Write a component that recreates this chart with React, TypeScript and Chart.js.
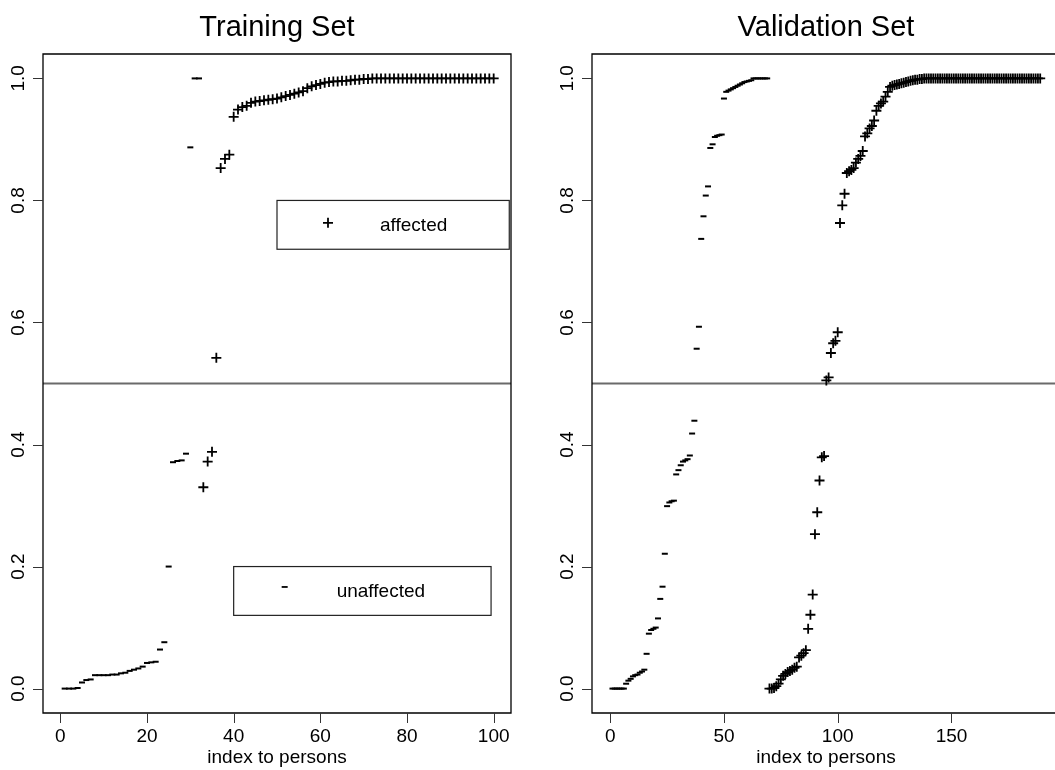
import React, { useEffect, useRef } from "react";
import { Chart, registerables } from "chart.js";

Chart.register(...registerables);

const FONT = '"Liberation Sans", Arial, Helvetica, sans-serif';

// ---------- Training set ----------
const trainUnaffectedStart = 1;
const trainUnaffected = [
  0.0, 0.0, 0.0, 0.001, 0.01, 0.014, 0.015, 0.022, 0.022, 0.022, 0.022, 0.023,
  0.023, 0.025, 0.026, 0.029, 0.031, 0.033, 0.036, 0.042, 0.043, 0.044, 0.064,
  0.076, 0.2, 0.371, 0.373, 0.374, 0.385, 0.887, 1.0, 1.0,
];
const trainAffectedStart = 33;
const trainAffected = [
  0.33, 0.372, 0.388, 0.542, 0.853, 0.868, 0.875, 0.937, 0.949, 0.953, 0.955,
  0.96, 0.962, 0.963, 0.964, 0.965, 0.966, 0.967, 0.969, 0.971, 0.973, 0.975,
  0.977, 0.979, 0.984, 0.987, 0.989, 0.991, 0.993, 0.994, 0.995, 0.995, 0.996,
  0.996, 0.997, 0.998, 0.998, 0.999, 0.999,
  1.0, 1.0, 1.0, 1.0, 1.0, 1.0, 1.0, 1.0, 1.0, 1.0, 1.0, 1.0, 1.0, 1.0, 1.0,
  1.0, 1.0, 1.0, 1.0, 1.0, 1.0, 1.0, 1.0, 1.0, 1.0, 1.0, 1.0, 1.0, 1.0,
];

// ---------- Validation set ----------
const validUnaffectedStart = 1;
const validUnaffected = [
  0.0, 0.0, 0.0, 0.0, 0.0, 0.0, 0.008, 0.013, 0.016, 0.02, 0.022, 0.023, 0.026,
  0.028, 0.031, 0.057, 0.09, 0.096, 0.098, 0.1, 0.115, 0.147, 0.167, 0.221,
  0.299, 0.305, 0.307, 0.308, 0.351, 0.358, 0.366, 0.372, 0.374, 0.376, 0.382,
  0.418, 0.439, 0.557, 0.593, 0.737, 0.774, 0.808, 0.823, 0.886, 0.892, 0.904,
  0.906, 0.907, 0.908, 0.967, 0.978, 0.98, 0.982, 0.984, 0.986, 0.988, 0.99,
  0.992, 0.994, 0.995, 0.996, 0.997, 1.0, 1.0, 1.0, 1.0, 1.0, 1.0, 1.0,
];
const validAffectedStart = 70;
const validAffected = [
  0.0, 0.0, 0.001, 0.004, 0.008, 0.015, 0.021, 0.024, 0.027, 0.029, 0.031,
  0.034, 0.036, 0.051, 0.054, 0.058, 0.063, 0.098, 0.121, 0.154, 0.253, 0.289,
  0.341, 0.379, 0.381, 0.505, 0.51, 0.55, 0.566, 0.57, 0.584, 0.763, 0.792,
  0.811, 0.845, 0.848, 0.85, 0.853, 0.862, 0.868, 0.873, 0.881, 0.905, 0.91,
  0.918, 0.922, 0.931, 0.947, 0.955, 0.959, 0.962, 0.97, 0.978, 0.986, 0.988,
  0.989, 0.99, 0.991, 0.992, 0.993, 0.994, 0.995, 0.996, 0.997, 0.998, 0.998,
  0.999, 0.999,
  1.0, 1.0, 1.0, 1.0, 1.0, 1.0, 1.0, 1.0, 1.0, 1.0, 1.0, 1.0, 1.0, 1.0, 1.0,
  1.0, 1.0, 1.0, 1.0, 1.0, 1.0, 1.0, 1.0, 1.0, 1.0, 1.0, 1.0, 1.0, 1.0, 1.0,
  1.0, 1.0, 1.0, 1.0, 1.0, 1.0, 1.0, 1.0, 1.0, 1.0, 1.0, 1.0, 1.0, 1.0, 1.0,
  1.0, 1.0, 1.0, 1.0, 1.0, 1.0, 1.0,
];

// ---------- Axes ----------
const trainXTicks = [0, 20, 40, 60, 80, 100];
const validXTicks = [0, 50, 100, 150];
const yTicks = [0, 0.2, 0.4, 0.6, 0.8, 1.0];
const yTickLabels = ["0.0", "0.2", "0.4", "0.6", "0.8", "1.0"];
const xAxisTitle = "index to persons";
const cutoff = 0.5;
const legendAffected = "affected";
const legendUnaffected = "unaffected";

type LegendSpec = {
  label: string;
  kind: "cross" | "line";
  x0: number;
  x1: number;
  y0: number;
  y1: number;
};

type PanelProps = {
  title: string;
  unaffected: number[];
  unaffectedStart: number;
  affected: number[];
  affectedStart: number;
  xTicks: number[];
  xMin: number;
  xMax: number;
  width: number;
  left: number;
  padLeft: number;
  padRight: number;
  rightBorder: boolean;
  titleOffset: number;
  legends: LegendSpec[];
};

const toPoints = (values: number[], start: number) =>
  values.map((y, i) => ({ x: start + i, y }));

function drawCross(ctx: CanvasRenderingContext2D, x: number, y: number) {
  ctx.beginPath();
  ctx.moveTo(x - 5, y);
  ctx.lineTo(x + 5, y);
  ctx.moveTo(x, y - 5);
  ctx.lineTo(x, y + 5);
  ctx.stroke();
}

function Panel(p: PanelProps) {
  const ref = useRef<HTMLCanvasElement | null>(null);

  useEffect(() => {
    if (!ref.current) return;
    const plugin = {
      id: "rstyle",
      beforeDatasetsDraw(chart: any) {
        const { ctx, chartArea: a, scales } = chart;
        const yc = scales.y.getPixelForValue(cutoff);
        ctx.save();
        ctx.strokeStyle = "#6a6a6a";
        ctx.lineWidth = 1.8;
        ctx.beginPath();
        ctx.moveTo(a.left, yc);
        ctx.lineTo(a.right, yc);
        ctx.stroke();
        ctx.restore();
      },
      afterDraw(chart: any) {
        const { ctx, chartArea: a, scales } = chart;
        const xs = scales.x;
        const ys = scales.y;
        ctx.save();
        // frame
        ctx.strokeStyle = "#000";
        ctx.lineWidth = 1.3;
        ctx.beginPath();
        if (p.rightBorder) {
          ctx.rect(a.left, a.top, a.right - a.left, a.bottom - a.top);
        } else {
          ctx.moveTo(a.right + 2, a.top);
          ctx.lineTo(a.left, a.top);
          ctx.lineTo(a.left, a.bottom);
          ctx.lineTo(a.right + 2, a.bottom);
        }
        ctx.stroke();

        // ticks
        ctx.strokeStyle = "#333";
        ctx.lineWidth = 1;
        ctx.beginPath();
        p.xTicks.forEach((t) => {
          const x = Math.round(xs.getPixelForValue(t)) + 0.5;
          ctx.moveTo(x, a.bottom);
          ctx.lineTo(x, a.bottom + 10);
        });
        yTicks.forEach((t) => {
          const y = Math.round(ys.getPixelForValue(t)) + 0.5;
          ctx.moveTo(a.left - 10, y);
          ctx.lineTo(a.left, y);
        });
        ctx.stroke();

        // tick labels
        ctx.fillStyle = "#000";
        ctx.font = `19px ${FONT}`;
        ctx.textAlign = "center";
        ctx.textBaseline = "middle";
        p.xTicks.forEach((t) => {
          ctx.fillText(String(t), xs.getPixelForValue(t), a.bottom + 24);
        });
        yTicks.forEach((t, i) => {
          ctx.save();
          ctx.translate(a.left - 24, ys.getPixelForValue(t));
          ctx.rotate(-Math.PI / 2);
          ctx.fillText(yTickLabels[i], 0, 0);
          ctx.restore();
        });

        // axis title
        ctx.textBaseline = "alphabetic";
        ctx.fillText(xAxisTitle, a.left + p.titleOffset, a.bottom + 50);

        // main title
        ctx.font = `29px ${FONT}`;
        ctx.fillText(p.title, a.left + p.titleOffset, 36);

        // legends
        p.legends.forEach((lg) => {
          const lx = xs.getPixelForValue(lg.x0);
          const rx = xs.getPixelForValue(lg.x1);
          const ty = ys.getPixelForValue(lg.y1);
          const by = ys.getPixelForValue(lg.y0);
          const cy = (ty + by) / 2;
          ctx.strokeStyle = "#222";
          ctx.lineWidth = 1.2;
          ctx.strokeRect(lx, ty, rx - lx, by - ty);
          ctx.strokeStyle = "#000";
          ctx.lineWidth = 1.8;
          if (lg.kind === "cross") {
            drawCross(ctx, lx + 51, cy - 2);
          } else {
            ctx.beginPath();
            ctx.moveTo(lx + 48, cy - 4);
            ctx.lineTo(lx + 54, cy - 4);
            ctx.stroke();
          }
          ctx.font = `19px ${FONT}`;
          ctx.textAlign = "left";
          ctx.fillStyle = "#000";
          ctx.fillText(lg.label, lx + 103, cy + 6);
        });
        ctx.restore();
      },
    };

    const chart = new Chart(ref.current, {
      type: "scatter",
      data: {
        datasets: [
          {
            label: legendUnaffected,
            data: toPoints(p.unaffected, p.unaffectedStart),
            pointStyle: "line",
            pointRadius: 3,
            pointBorderWidth: 2,
            pointBorderColor: "#000",
            pointBackgroundColor: "#000",
            borderColor: "#000",
            showLine: false,
          },
          {
            label: legendAffected,
            data: toPoints(p.affected, p.affectedStart),
            pointStyle: "cross",
            pointRadius: 5,
            pointBorderWidth: 1.8,
            pointBorderColor: "#000",
            pointBackgroundColor: "#000",
            borderColor: "#000",
            showLine: false,
          },
        ],
      },
      options: {
        responsive: false,
        animation: false,
        events: [],
        layout: {
          autoPadding: false,
          padding: { left: p.padLeft, right: p.padRight, top: 54, bottom: 57 },
        },
        plugins: {
          legend: { display: false },
          tooltip: { enabled: false },
          title: { display: false },
        },
        scales: {
          x: { type: "linear", min: p.xMin, max: p.xMax, display: false },
          y: { type: "linear", min: -0.04, max: 1.04, display: false },
        },
      },
      plugins: [plugin],
    } as any);
    return () => chart.destroy();
  }, []);

  return (
    <canvas
      ref={ref}
      width={p.width}
      height={770}
      style={{ position: "absolute", left: p.left, top: 0, width: p.width, height: 770 }}
    />
  );
}

export default function App() {
  return (
    <div
      style={{
        position: "absolute",
        left: 0,
        top: 0,
        width: 1055,
        height: 770,
        background: "#fff",
        overflow: "hidden",
      }}
    >
      <Panel
        title="Training Set"
        unaffected={trainUnaffected}
        unaffectedStart={trainUnaffectedStart}
        affected={trainAffected}
        affectedStart={trainAffectedStart}
        xTicks={trainXTicks}
        xMin={-4}
        xMax={104}
        width={527}
        left={0}
        padLeft={43}
        padRight={16}
        rightBorder={true}
        titleOffset={234}
        legends={[
          { label: legendAffected, kind: "cross", x0: 50, x1: 103.6, y0: 0.72, y1: 0.8 },
          { label: legendUnaffected, kind: "line", x0: 40, x1: 99.4, y0: 0.12, y1: 0.2 },
        ]}
      />
      <Panel
        title="Validation Set"
        unaffected={validUnaffected}
        unaffectedStart={validUnaffectedStart}
        affected={validAffected}
        affectedStart={validAffectedStart}
        xTicks={validXTicks}
        xMin={-8}
        xMax={195.5}
        width={528}
        left={527}
        padLeft={65}
        padRight={0}
        rightBorder={false}
        titleOffset={234}
        legends={[]}
      />
    </div>
  );
}
